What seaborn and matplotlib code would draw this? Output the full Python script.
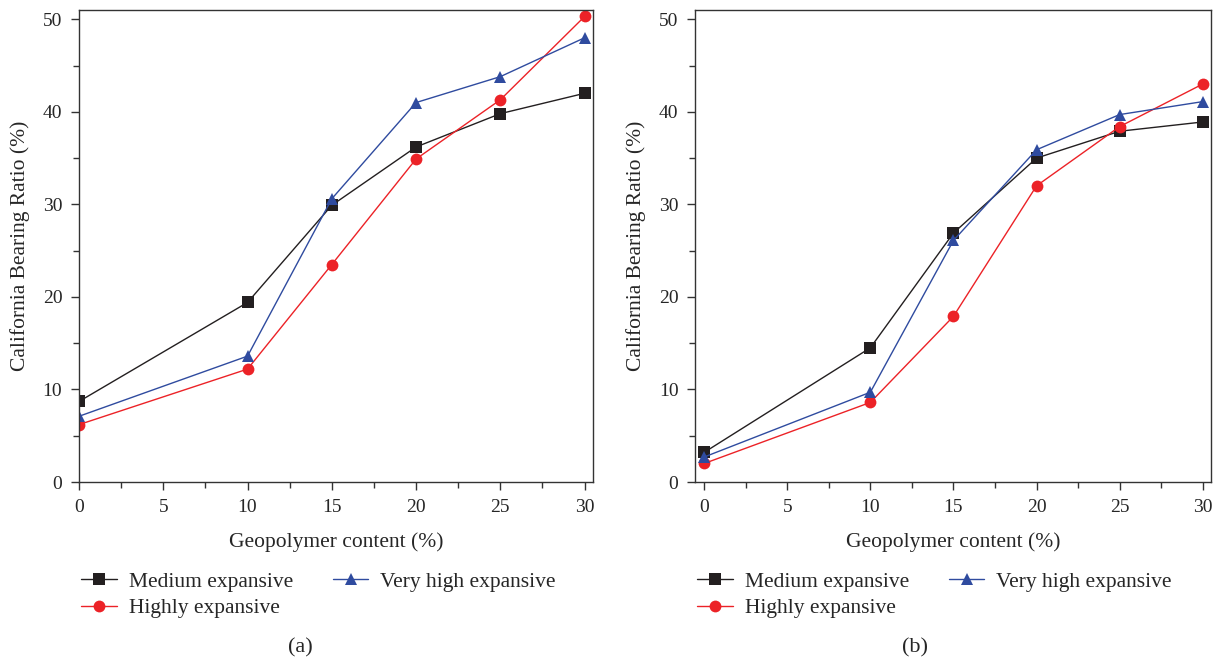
import numpy as np
import pandas as pd
import matplotlib
matplotlib.use("Agg")
import matplotlib.pyplot as plt
import seaborn as sns
from matplotlib.ticker import MultipleLocator

content = [0, 10, 15, 20, 25, 30]
series_names = ["Medium expansive", "Highly expansive", "Very high expansive"]

# Panel (a)
a_medium = [8.7, 19.4, 29.9, 36.2, 39.8, 42.0]
a_highly = [6.2, 12.2, 23.5, 34.9, 41.3, 50.3]
a_veryhigh = [7.1, 13.6, 30.6, 41.0, 43.8, 48.0]

# Panel (b)
b_medium = [3.2, 14.5, 26.9, 35.0, 37.9, 38.9]
b_highly = [2.0, 8.6, 17.9, 32.0, 38.4, 43.0]
b_veryhigh = [2.7, 9.7, 26.1, 35.9, 39.7, 41.1]

panel_labels = ["(a)", "(b)"]

sns.set_theme(style="ticks")
plt.rcParams['font.family'] = ['Liberation Serif', 'DejaVu Serif']

colors = {"Medium expansive": "#231f20", "Highly expansive": "#ec2227", "Very high expansive": "#2f4b9f"}
markers = {"Medium expansive": "s", "Highly expansive": "o", "Very high expansive": "^"}

def make_df(m, h, v):
    rows = []
    for name, vals in zip(series_names, [m, h, v]):
        for x, y in zip(content, vals):
            rows.append({"Geopolymer content (%)": x, "CBR": y, "Soil": name})
    return pd.DataFrame(rows)

fig = plt.figure(figsize=(12.17, 6.62), dpi=100)
ax_pos = [[0.0649, 0.2719, 0.4224, 0.7130], [0.5711, 0.2719, 0.4240, 0.7130]]
xlims = [(0, 30.5), (-0.55, 30.5)]
datasets = [(a_medium, a_highly, a_veryhigh), (b_medium, b_highly, b_veryhigh)]
label_x = [300 / 1217, 915 / 1217]

for i in range(2):
    ax = fig.add_axes(ax_pos[i])
    df = make_df(*datasets[i])
    sns.lineplot(data=df, x="Geopolymer content (%)", y="CBR", hue="Soil", style="Soil",
                 hue_order=series_names, style_order=series_names,
                 palette=colors, markers=markers, dashes=False, markersize=8.5,
                 markeredgewidth=0, linewidth=1.0, ax=ax)
    ax.set_xlim(*xlims[i])
    ax.set_ylim(0, 51)
    ax.xaxis.set_major_locator(MultipleLocator(5))
    ax.xaxis.set_minor_locator(MultipleLocator(2.5))
    ax.yaxis.set_major_locator(MultipleLocator(10))
    ax.yaxis.set_minor_locator(MultipleLocator(5))
    ax.tick_params(which="major", direction="out", length=6, width=1, labelsize=14,
                   color="#333333", pad=6)
    ax.tick_params(which="minor", direction="out", length=4, width=1, color="#333333")
    for s in ax.spines.values():
        s.set_linewidth(1.0)
        s.set_color("#333333")
    ax.set_xlabel("Geopolymer content (%)", fontsize=15.5, labelpad=12)
    ax.set_ylabel("California Bearing Ratio (%)", fontsize=15.5, labelpad=9)
    leg = ax.legend(loc="upper left", bbox_to_anchor=(-0.012, -0.172), ncol=2, frameon=False,
                    fontsize=15.5, handlelength=1.65, columnspacing=1.85, labelspacing=0.3,
                    handletextpad=0.55, title=None, borderaxespad=0)
    fig.text(label_x[i], 1 - 648 / 662, panel_labels[i], ha="center", va="center", fontsize=16)

fig.savefig("out.png", dpi=100)
